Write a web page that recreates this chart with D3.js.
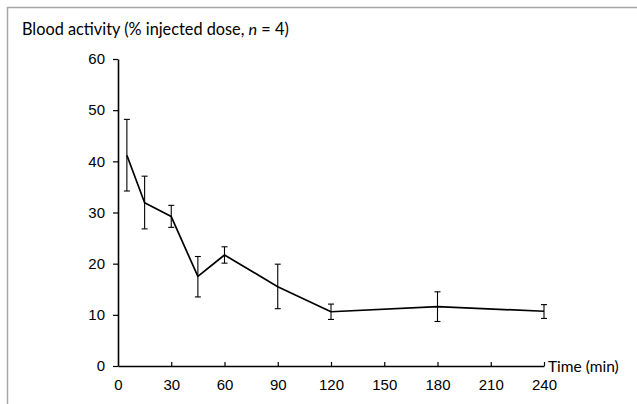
<!DOCTYPE html>
<html>
<head>
<meta charset="utf-8">
<script src="https://cdn.jsdelivr.net/npm/d3@7.9.0/dist/d3.min.js"></script>
<style>
  html, body { margin: 0; padding: 0; background: #fff; }
  svg { display: block; }
</style>
</head>
<body>
<div id="chart"></div>
<script>
const times = [5, 15, 30, 45, 60, 90, 120, 180, 240];
const means = [41.2, 31.9, 29.2, 17.5, 21.7, 15.5, 10.6, 11.6, 10.7];
const lower = [34.2, 26.8, 27.1, 13.5, 20.1, 11.2, 9.1, 8.7, 9.3];
const upper = [48.2, 37.1, 31.4, 21.4, 23.3, 19.9, 12.1, 14.5, 12.0];
const xTicks = [0, 30, 60, 90, 120, 150, 180, 210, 240];
const yTicks = [0, 10, 20, 30, 40, 50, 60];

const points = times.map((t, i) => ({ t, m: means[i], lo: lower[i], hi: upper[i] }));

const width = 637;
const height = 404;
const svg = d3.select('#chart').append('svg')
  .attr('width', width)
  .attr('height', height);

// frame around the chart
svg.append('path')
  .attr('d', `M7.5,${height} V7.5 H${width}`)
  .attr('fill', 'none')
  .attr('stroke', '#a6a6a6')
  .attr('stroke-width', 1.5);

const x = d3.scaleLinear().domain([0, 240]).range([118, 544]);
const y = d3.scaleLinear().domain([0, 60]).range([366, 59]);

const tickFont = '"Liberation Sans", Arial, sans-serif';
const labelFont = 'Lato, "Open Sans", sans-serif';

const yAxis = svg.append('g')
  .attr('transform', `translate(${x(0)},0)`)
  .call(d3.axisLeft(y).tickValues(yTicks).tickSize(5).tickPadding(8).tickSizeOuter(0));

const xAxis = svg.append('g')
  .attr('transform', `translate(0,${y(0)})`)
  .call(d3.axisBottom(x).tickValues(xTicks).tickSize(-4).tickPadding(13).tickSizeOuter(0));

[xAxis, yAxis].forEach(g => {
  g.attr('font-family', null).attr('font-size', null);
  g.select('.domain').attr('stroke', '#000').attr('stroke-width', 1.6);
  g.selectAll('.tick line').attr('stroke', '#000').attr('stroke-width', 1.2);
  g.selectAll('.tick text')
    .attr('fill', '#000')
    .style('font-family', tickFont)
    .style('font-size', '15px');
});
xAxis.selectAll('.tick').filter(d => d === 0).select('line').remove();

// error bars
const err = svg.append('g').attr('stroke', '#000').attr('stroke-width', 1.1);
err.selectAll('line.v').data(points).join('line')
  .attr('class', 'v')
  .attr('x1', d => x(d.t)).attr('x2', d => x(d.t))
  .attr('y1', d => y(d.lo)).attr('y2', d => y(d.hi));
err.selectAll('line.cap-hi').data(points).join('line')
  .attr('class', 'cap-hi')
  .attr('x1', d => x(d.t) - 3).attr('x2', d => x(d.t) + 3)
  .attr('y1', d => y(d.hi)).attr('y2', d => y(d.hi));
err.selectAll('line.cap-lo').data(points).join('line')
  .attr('class', 'cap-lo')
  .attr('x1', d => x(d.t) - 3).attr('x2', d => x(d.t) + 3)
  .attr('y1', d => y(d.lo)).attr('y2', d => y(d.lo));

// mean line
svg.append('path')
  .datum(points)
  .attr('fill', 'none')
  .attr('stroke', '#000')
  .attr('stroke-width', 1.7)
  .attr('stroke-linejoin', 'round')
  .attr('d', d3.line().x(d => x(d.t)).y(d => y(d.m)));

// titles
const title = svg.append('text')
  .attr('x', 22)
  .attr('y', 35)
  .style('font-family', labelFont)
  .style('font-size', '16.3px')
  .attr('fill', '#000');
title.append('tspan').text('Blood activity (% injected dose, ');
title.append('tspan').style('font-style', 'italic').text('n');
title.append('tspan').text(' = 4)');

svg.append('text')
  .attr('x', 548)
  .attr('y', 372)
  .style('font-family', labelFont)
  .style('font-size', '15.5px')
  .attr('fill', '#000')
  .text('Time (min)');
</script>
</body>
</html>
